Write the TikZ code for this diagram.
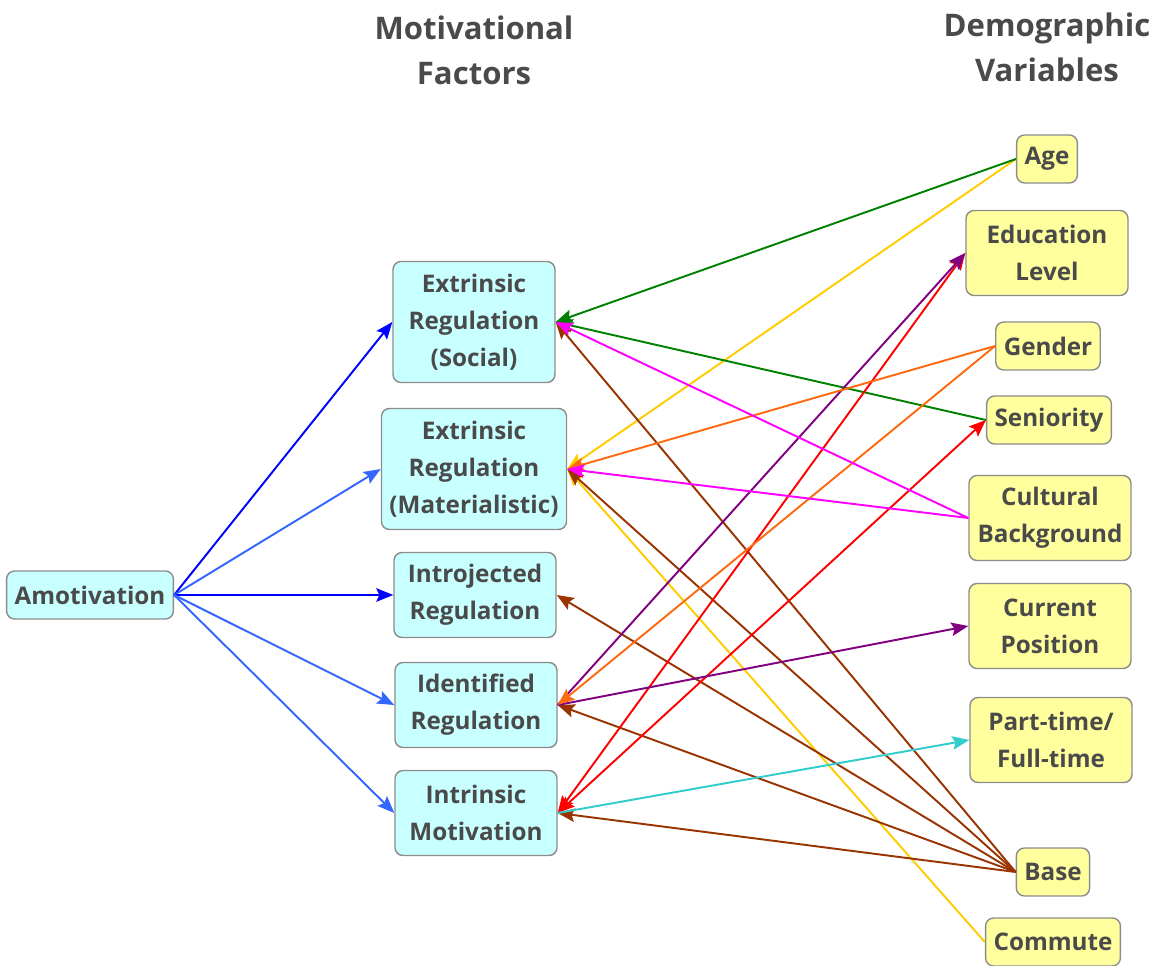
\documentclass[tikz,border=0pt]{standalone}
\usepackage{fontspec}
\setmainfont{Open Sans}
\usetikzlibrary{arrows.meta}

\definecolor{txtgray}{HTML}{4A4A4A}
\definecolor{boxgray}{HTML}{8C8C8C}
\definecolor{motivcyan}{HTML}{C8FFFF}
\definecolor{demoyellow}{HTML}{FFFF9E}
\definecolor{royal}{HTML}{3366FF}
\definecolor{ageline}{HTML}{008000}
\definecolor{gold}{HTML}{FFCC00}
\definecolor{plum}{HTML}{800080}
\definecolor{tangerine}{HTML}{FF6A10}
\definecolor{fuchsia}{HTML}{FF00FF}
\definecolor{teal}{HTML}{33CCCC}
\definecolor{rust}{HTML}{993300}

\begin{document}
\begin{tikzpicture}[x=0.02cm, y=-0.02cm, >={Stealth[length=3.4mm,width=2.7mm,inset=0.6mm]},
  box/.style={draw=boxgray, rounded corners=0.16cm, inner xsep=0.16cm, inner ysep=0pt, align=center,
    text=txtgray, font=\fontsize{13.8}{21}\selectfont\bfseries, line width=0.8pt},
  motiv/.style={box, fill=motivcyan},
  demo/.style={box, fill=demoyellow},
  oneline/.style={minimum height=0.96cm},
  twoline/.style={minimum height=1.7cm, minimum width=3.24cm},
  threeline/.style={minimum height=2.42cm, minimum width=3.24cm},
  head/.style={align=center, text=txtgray, font=\fontsize{17.7}{25.6}\selectfont\bfseries},
  link/.style={->, line width=1.1pt}]
\useasboundingbox (0,0) rectangle (1161,966);

% column titles
\node[head] (mfhead) at (474,50) {Motivational\\Factors};
\node[head] (dvhead) at (1047,47) {Demographic\\Variables};

% motivational factors
\node[motiv, oneline] (amot) at (90,595) {Amotivation};
\node[motiv, threeline] (social) at (474,322) {Extrinsic\\Regulation\\(Social)};
\node[motiv, threeline] (mater) at (474,469) {Extrinsic\\Regulation\\(Materialistic)};
\node[motiv, twoline] (introj) at (475,595) {Introjected\\Regulation};
\node[motiv, twoline] (ident) at (476,705) {Identified\\Regulation};
\node[motiv, twoline] (intrin) at (476,813) {Intrinsic\\Motivation};

% demographic variables
\node[demo, oneline] (age) at (1047,159) {Age};
\node[demo, twoline] (edu) at (1047,253) {Education\\Level};
\node[demo, oneline] (gender) at (1048,346) {Gender};
\node[demo, oneline] (senior) at (1049,420) {Seniority};
\node[demo, twoline] (cult) at (1050,518) {Cultural\\Background};
\node[demo, twoline] (curpos) at (1050,626) {Current\\Position};
\node[demo, twoline] (ptft) at (1051,740) {Part-time/\\Full-time};
\node[demo, oneline] (base) at (1053,872) {Base};
\node[demo, oneline] (commute) at (1053,942) {Commute};

% amotivation links
\draw[link, blue] (amot.east) -- (social.west);
\draw[link, royal] (amot.east) -- (mater.west);
\draw[link, blue] (amot.east) -- (introj.west);
\draw[link, royal] (amot.east) -- (ident.west);
\draw[link, royal] (amot.east) -- (intrin.west);

% demographic links
\draw[link, gold] (age.west) -- (mater.east);
\draw[link, gold] (commute.west) -- (mater.east);
\draw[link, ageline] (age.west) -- (social.east);
\draw[link, ageline] (senior.west) -- (social.east);
\draw[link, rust] (base.west) -- (social.east);
\draw[link, rust] (base.west) -- (mater.east);
\draw[link, rust] (base.west) -- (introj.east);
\draw[link, rust] (base.west) -- (ident.east);
\draw[link, rust] (base.west) -- (intrin.east);
\draw[link, red, <->] (intrin.east) -- (edu.west);
\draw[link, red, <->] (intrin.east) -- (senior.west);
\draw[link, plum] (ident.east) -- (edu.west);
\draw[link, plum] (ident.east) -- (curpos.west);
\draw[link, tangerine] (gender.west) -- (mater.east);
\draw[link, tangerine] (gender.west) -- (ident.east);
\draw[link, fuchsia] (cult.west) -- (social.east);
\draw[link, fuchsia] (cult.west) -- (mater.east);
\draw[link, teal] (intrin.east) -- (ptft.west);
\end{tikzpicture}
\end{document}
